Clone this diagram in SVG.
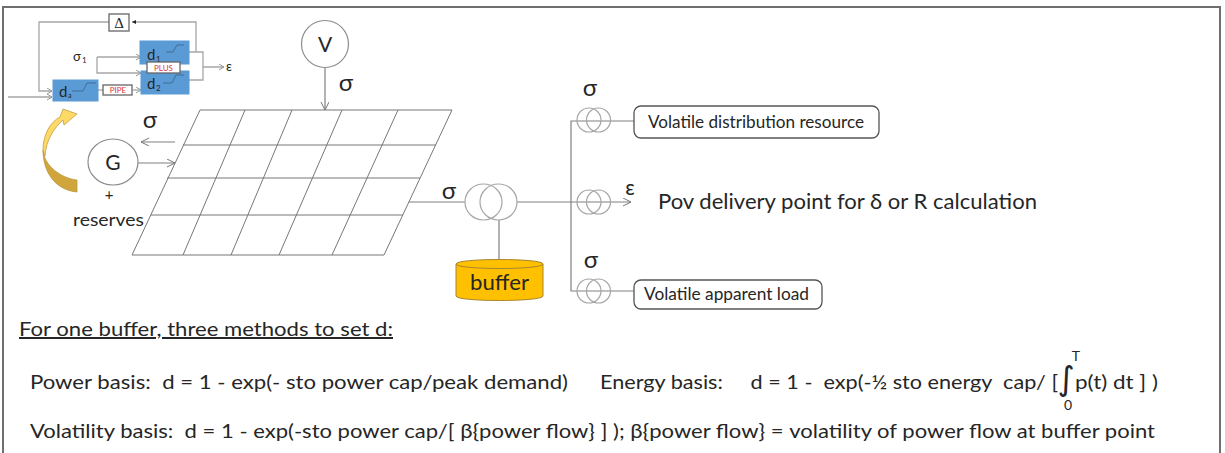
<svg xmlns="http://www.w3.org/2000/svg" width="1225" height="453" viewBox="0 0 1225 453">
<defs>
<marker id="op" markerWidth="10" markerHeight="10" refX="8" refY="4" orient="auto" markerUnits="userSpaceOnUse"><path d="M0 0L8 4L0 8" fill="none" stroke="#777" stroke-width="1"/></marker>
<marker id="sm" markerWidth="8" markerHeight="8" refX="5" refY="3" orient="auto" markerUnits="userSpaceOnUse"><path d="M0 0L5 3L0 6" fill="none" stroke="#999" stroke-width="1"/></marker>
<marker id="bk" markerWidth="6" markerHeight="6" refX="4" refY="2" orient="auto" markerUnits="userSpaceOnUse"><path d="M0 0L4 2L0 4Z" fill="#222"/></marker>
</defs>
<style>
text{font-family:Lato,"Liberation Sans",sans-serif;fill:#262626;white-space:pre}
.l{fill:none;stroke:#808080;stroke-width:1.2}
.g{fill:none;stroke:#a6a6a6;stroke-width:1.3}
.gr{fill:none;stroke:#777;stroke-width:1}
.c{fill:#fff;stroke:#8c8c8c;stroke-width:1.2}
.t{fill:none;stroke:#a6a6a6;stroke-width:1.2}
.b{fill:#5b9bd5;stroke:#5b9bd5}
.r{fill:#fff;stroke:#666;stroke-width:1.3}
.rr{fill:#fff;stroke:#555;stroke-width:1.3}
.red{fill:#e0343a;font-size:8px;text-anchor:middle}
.s{font-size:24px;text-anchor:middle}
</style>
<rect id="frame" x="3" y="7" width="1217" height="450" fill="#fff" stroke="#6e6e6e" stroke-width="2"/>

<g id="connectors">
<path class="g" d="M109 22H39V91H52" marker-end="url(#sm)"/>
<path class="g" d="M196 52V22H132" marker-end="url(#bk)"/>
<path class="g" d="M97 57H141" marker-end="url(#sm)"/>
<path class="g" d="M97 57V73H141" marker-end="url(#sm)"/>
<path class="g" d="M8 97H52" marker-end="url(#sm)"/>
<path class="g" d="M98 90H103"/>
<path class="g" d="M133 90H141" marker-end="url(#sm)"/>
<path class="g" d="M189 52H203V80H189M203 67H224" marker-end="url(#sm)"/>
<path class="l" d="M325 67V110" marker-end="url(#op)"/>
<path class="l" d="M175 142H141" marker-end="url(#op)"/>
<path class="l" d="M138 163H175" marker-end="url(#op)"/>
<path class="l" d="M409 202H465"/>
<path class="l" d="M517 202H631" marker-end="url(#op)"/>
<path class="l" d="M499 220V260"/>
<path class="l" d="M634 121H571V291H634"/>
</g>

<g id="grid">
<path class="gr" d="M200 110H452L384 255H132Z"/>
<path class="gr" d="M183 145H436M167 178H420M151 215H403"/>
<path class="gr" d="M245 110L183 255M292 110L231 255M342 110L279 255M398 110L332 255"/>
</g>

<g id="control">
<rect class="r" x="109" y="14" width="20" height="17"/>
<text x="119" y="28" font-size="15" text-anchor="middle" style="font-family:'Liberation Serif',serif">Δ</text>
<text x="73" y="61" font-size="13">σ</text><text x="82" y="63" font-size="8">1</text>
<rect id="d1" class="b" x="140" y="41" width="49" height="23"/>
<rect id="d2" class="b" x="141" y="71" width="48" height="23"/>
<rect id="da" class="b" x="53" y="80" width="45" height="21"/>
<text x="147" y="60" font-size="15">d</text><text x="156" y="62" font-size="8">1</text>
<text x="147" y="89" font-size="15">d</text><text x="156" y="91" font-size="8">2</text>
<text x="59" y="97" font-size="15">d</text><text x="68" y="98" font-size="7">a</text>
<path fill="none" stroke="#3a5f85" stroke-width="0.8" d="M166 52H173L177 45H184M163 83H172L176 75H184M72 91H83L87 83H96"/>
<rect class="r" x="147" y="62" width="33" height="11"/>
<text class="red" x="163.500" y="70.500">PLUS</text>
<rect class="r" x="103" y="85" width="29" height="10"/>
<text class="red" x="118" y="93">PIPE</text>
<text x="226" y="71" font-size="13">ε</text>
<path fill="#d0a63c" stroke="#b5933a" stroke-width="0.7" d="M77 192C55 190 43 172 43 150C44 165 60 178 77 180Z"/>
<path fill="#ffd966" stroke="#b5933a" stroke-width="0.7" d="M43 150C43 135 50 122 60 117L63 109L77 114L64 125L63 120C54 128 46 140 45 156Z"/>
</g>

<g id="V"><circle class="c" cx="325" cy="44" r="23.500"/><text x="325" y="52" font-size="21" text-anchor="middle">V</text></g>
<text class="s" x="346" y="91">σ</text>
<g id="G"><ellipse class="c" cx="113" cy="162" rx="25" ry="23"/><text x="113" y="170" font-size="21" text-anchor="middle">G</text></g>
<text class="s" x="150" y="128">σ</text>
<text x="109" y="200" font-size="15" text-anchor="middle">+</text>
<text x="73" y="226" font-size="18" textLength="71" lengthAdjust="spacingAndGlyphs">reserves</text>
<text class="s" x="449" y="199">σ</text>

<g id="transformer"><ellipse class="t" cx="483.500" cy="202" rx="18.500" ry="18"/><ellipse class="t" cx="498.500" cy="202" rx="18.500" ry="18"/></g>
<g id="buffer"><path d="M456 264C456 258 543 258 543 264V296C543 302 456 302 456 296Z" fill="#ffc000" stroke="#a8862a"/><path d="M456 264C456 270 543 270 543 264" fill="#ffc000" stroke="#a8862a"/><text x="470" y="290" font-size="22" textLength="59" lengthAdjust="spacingAndGlyphs">buffer</text></g>
<g id="xf1"><circle class="t" cx="589" cy="120" r="12"/><circle class="t" cx="598.500" cy="120" r="12"/></g>
<g id="xf2"><circle class="t" cx="589" cy="202" r="12"/><circle class="t" cx="598.500" cy="202" r="12"/></g>
<g id="xf3"><circle class="t" cx="589" cy="291" r="12"/><circle class="t" cx="598.500" cy="291" r="12"/></g>
<text class="s" x="590" y="96">σ</text>
<text x="630" y="195" font-size="21" text-anchor="middle">ε</text>
<text class="s" x="591" y="268">σ</text>
<g id="n1"><rect class="rr" x="634" y="106" width="245" height="32" rx="7"/><text x="648" y="128" font-size="16.500" textLength="216" lengthAdjust="spacingAndGlyphs">Volatile distribution resource</text></g>
<g id="n2"><rect class="rr" x="634" y="280" width="188" height="29" rx="7"/><text x="644" y="300" font-size="16.500" textLength="165" lengthAdjust="spacingAndGlyphs">Volatile apparent load</text></g>
<text x="658" y="209" font-size="22" textLength="379" lengthAdjust="spacingAndGlyphs">Pov delivery point for δ or R calculation</text>

<text x="19" y="336" font-size="20" textLength="374" lengthAdjust="spacingAndGlyphs" text-decoration="underline">For one buffer, three methods to set d:</text>
<text x="30" y="389" font-size="20" textLength="538" lengthAdjust="spacingAndGlyphs">Power basis:  d = 1 - exp(- sto power cap/peak demand)</text>
<text x="600" y="389" font-size="20" textLength="458" lengthAdjust="spacingAndGlyphs">Energy basis:     d = 1 -  exp(-½ sto energy  cap/ [</text>
<text x="1075" y="389" font-size="20" textLength="83" lengthAdjust="spacingAndGlyphs">p(t) dt ] )</text>
<text x="1066" y="390" font-size="33" text-anchor="middle" style="font-family:'DejaVu Sans',sans-serif">∫</text>
<text x="1076" y="361" font-size="14" text-anchor="middle">T</text>
<text x="1068" y="410" font-size="14" text-anchor="middle">0</text>
<text x="30" y="438" font-size="20" textLength="1125" lengthAdjust="spacingAndGlyphs">Volatility basis:  d = 1 - exp(-sto power cap/[ β{power flow} ] ); β{power flow} = volatility of power flow at buffer point</text>
</svg>
